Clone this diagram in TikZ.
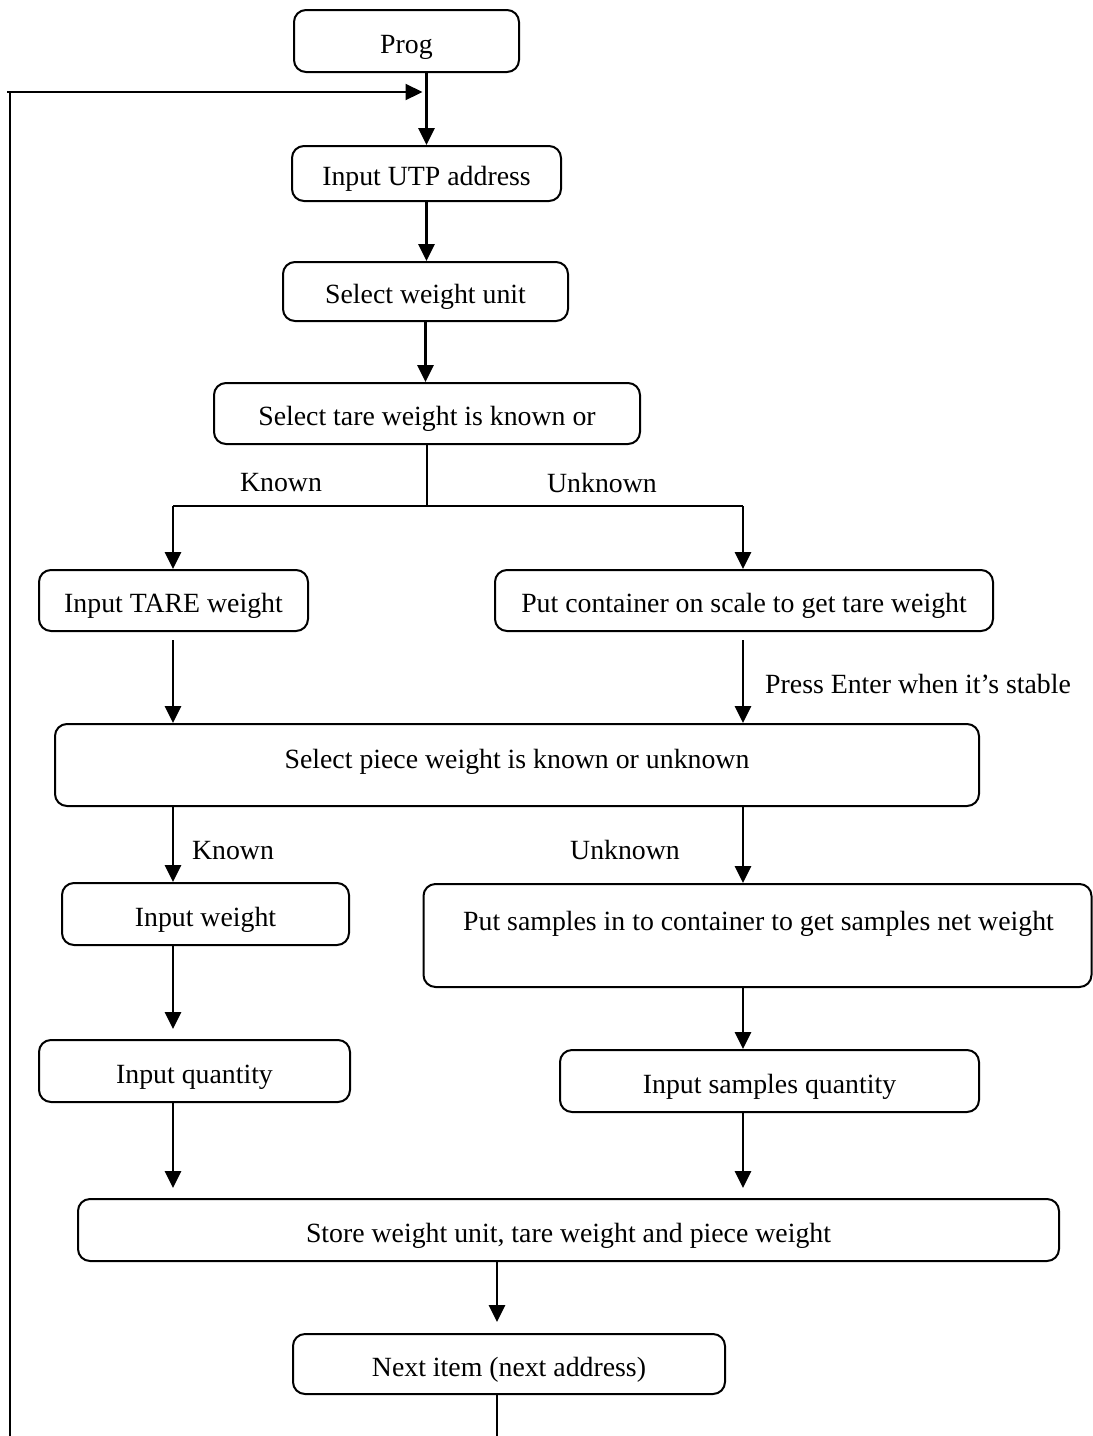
\documentclass[tikz,border=0pt]{standalone}
\usepackage{fontspec}
\setmainfont{Liberation Serif}
\usetikzlibrary{arrows.meta,calc}
\begin{document}
\begin{tikzpicture}[x=1pt,y=1pt,
  box/.style={draw, line width=2pt, rounded corners=12pt, inner sep=0pt, align=center, text height=24pt, text depth=0pt},
  arr/.style={line width=2.8pt, -{Triangle[width=16pt,length=17pt]}},
  thin/.style={line width=1.8pt},
  lbl/.style={inner sep=0pt, text height=18.4pt, text depth=0pt},
  every node/.style={font=\fontsize{27.8}{32}\selectfont}]
\useasboundingbox (0,0) rectangle (1093,-1436);

\node[box, minimum width=225, minimum height=62] (prog) at (406.5,-41) {Prog};
\node[box, minimum width=269, minimum height=55] (utp) at (426.5,-173.5) {Input UTP address};
\node[box, minimum width=285, minimum height=59] (unit) at (425.5,-291.5) {Select weight unit};
\node[box, minimum width=426, minimum height=61] (tare) at (427,-413.5) {Select tare weight is known or};
\node[box, minimum width=269, minimum height=61] (tarein) at (173.5,-600.5) {Input TARE weight};
\node[box, minimum width=498, minimum height=61] (cont) at (744,-600.5) {Put container on scale to get tare weight};
\node[box, minimum width=924, minimum height=82] (piece) at (517,-765) {};
\node[lbl] (piecet) at (517,-759) {Select piece weight is known or unknown};
\node[box, minimum width=287, minimum height=62] (win) at (205.5,-914) {Input weight};
\node[box, minimum width=668, minimum height=103] (samp) at (757.5,-935.5) {};
\node[lbl] (sampt) at (758.5,-921) {Put samples in to container to get samples net weight};
\node[box, minimum width=311, minimum height=62] (qty) at (194.5,-1071) {Input quantity};
\node[box, minimum width=419, minimum height=62] (sqty) at (769.5,-1081) {Input samples quantity};
\node[box, minimum width=981, minimum height=62] (store) at (568.5,-1230) {Store weight unit, tare weight and piece weight};
\node[box, minimum width=432, minimum height=60] (next) at (509,-1364) {Next item (next address)};

% labels
\node[lbl] (k1) at (281,-482) {Known};
\node[lbl] (u1) at (602,-483) {Unknown};
\node[lbl, anchor=west] (pe) at (765,-684) {Press Enter when it’s stable};
\node[lbl] (k2) at (233,-850) {Known};
\node[lbl] (u2) at (625,-850) {Unknown};

% coordinates
\coordinate (lx) at (173,0);
\coordinate (rx) at (743,0);
\coordinate (br) at (427,-506);
\coordinate (loopT) at (10,-92);
\coordinate (loopB) at (10,-1436);
\coordinate (loopS) at (7,-92);
\coordinate (endB) at (497,-1436);

% loop
\draw[thin] (loopB) -- (loopT);
\draw[arr, line width=2.2pt, shorten >=4pt] (loopS) -- (utp.north |- loopT);

\draw[arr] (utp.north |- prog.south) -- (utp.north);
\draw[arr] (utp.south) -- (unit.north -| utp.south);
\draw[arr] (unit.south) -- (tare.north -| unit.south);

\draw[thin] (tare.south) -- (br);
\draw[thin] (br) -- (lx |- br);
\draw[thin] (br) -- (rx |- br);
\draw[arr] (lx |- br) -- (lx |- tarein.north);
\draw[arr] (rx |- br) -- (rx |- cont.north);

\draw[arr, shorten <=8pt] (lx |- tarein.south) -- (lx |- piece.north);
\draw[arr, shorten <=8pt] (rx |- cont.south) -- (rx |- piece.north);

\draw[arr] (lx |- piece.south) -- (lx |- win.north);
\draw[arr] (rx |- piece.south) -- (rx |- samp.north);

\draw[arr, shorten >=10pt] (lx |- win.south) -- (lx |- qty.north);
\draw[arr] (rx |- samp.south) -- (rx |- sqty.north);

\draw[arr, shorten >=10pt] (lx |- qty.south) -- (lx |- store.north);
\draw[arr, shorten >=10pt] (rx |- sqty.south) -- (rx |- store.north);

\draw[arr, shorten >=11pt] (endB |- store.south) -- (endB |- next.north);
\draw[thin] (endB |- next.south) -- (endB);
\end{tikzpicture}
\end{document}
